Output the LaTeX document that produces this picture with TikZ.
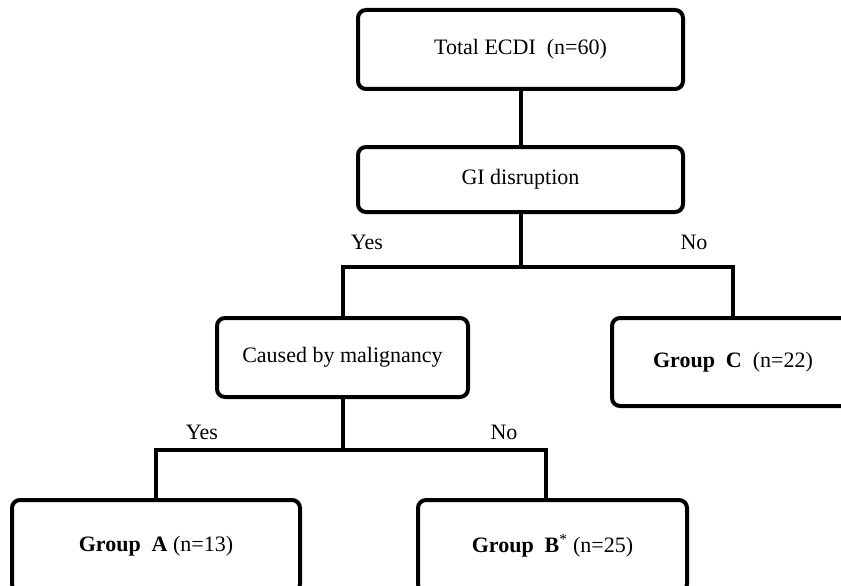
\documentclass[tikz,border=0pt]{standalone}
\usepackage{fontspec}
\setmainfont{Liberation Serif}
\begin{document}
\begin{tikzpicture}[x=1pt,y=1pt,
  box/.style={draw=black,line width=4pt,rounded corners=8pt,fill=white,
    inner sep=0pt,font=\fontsize{22}{26}\selectfont},
  lbl/.style={font=\fontsize{22}{26}\selectfont,inner sep=0pt},
  conn/.style={line width=4pt}]
\useasboundingbox (0,0) rectangle (841,-586);
\clip (0,0) rectangle (841,-586);
\node[box,minimum width=325pt,minimum height=79pt] (total) at (520.5,-49.5) {Total ECDI~~(n=60)};
\node[box,minimum width=325pt,minimum height=65pt] (gi) at (520.5,-179.5) {GI disruption};
\node[box,minimum width=251pt,minimum height=79pt] (mal) at (342.5,-357.5) {Caused by malignancy};
\node[box,minimum width=242pt,minimum height=88pt] (gc) at (733,-362) {\textbf{Group~~C}~~(n=22)};
\node[box,minimum width=288pt,minimum height=92pt] (ga) at (156,-546) {\textbf{Group~~A}~(n=13)};
\node[box,minimum width=269pt,minimum height=92pt] (gb) at (552.5,-546) {\textbf{Group~~B}\textsuperscript{*}~(n=25)};
\node[lbl] (yes1) at (367,-242) {Yes};
\node[lbl] (no1) at (694,-242) {No};
\node[lbl] (yes2) at (202,-432) {Yes};
\node[lbl] (no2) at (504,-432) {No};
\draw[conn] (total.south) -- (gi.north);
\draw[conn] (gi.south) -- ++(0,-53) coordinate (j1);
\draw[conn,line join=miter] (mal.north) |- (j1) -| (gc.north);
\draw[conn] (mal.south) -- ++(0,-51) coordinate (j2);
\coordinate (gbtop) at ([xshift=-6.5pt]gb.north);
\draw[conn,line join=miter] (ga.north) |- (j2) -| (gbtop);
\end{tikzpicture}
\end{document}
